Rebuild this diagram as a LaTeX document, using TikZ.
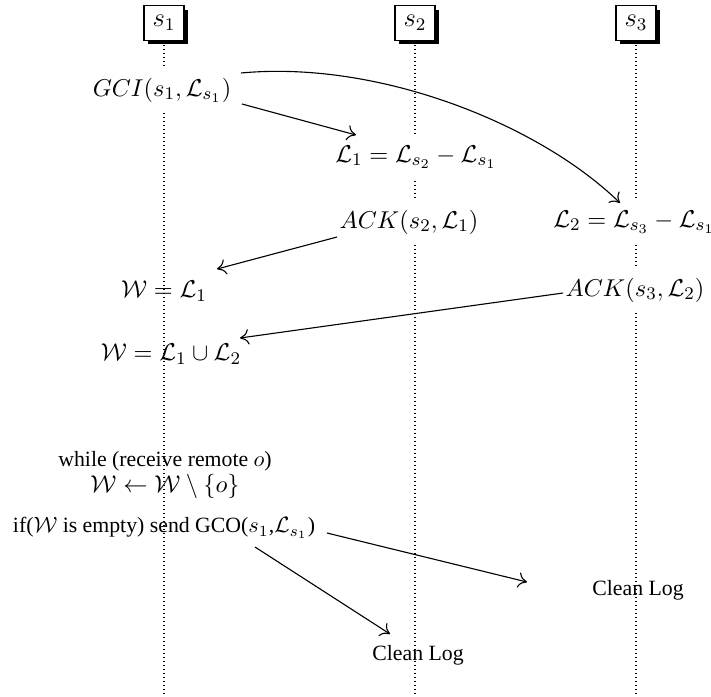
\documentclass[tikz,border=0pt]{standalone}
\usepackage{fontspec}
\setmainfont{Liberation Serif}
\usetikzlibrary{arrows.meta,shadows}
\begin{document}
\begin{tikzpicture}[x=0.45pt,y=-0.45pt,
  proc/.style={draw,line width=0.6pt,fill=white,minimum width=18pt,minimum height=15.5pt,inner sep=0pt,
    font=\fontsize{12}{14}\selectfont,
    drop shadow={shadow xshift=1.8pt,shadow yshift=-1.8pt,fill=black,opacity=1}},
  life/.style={line width=0.5pt,dash pattern=on 0.5pt off 1.3pt},
  msg/.style={line width=0.5pt,-{To[length=4pt,width=7pt]}},
  mbox/.style={fill=white,inner xsep=2pt,inner ysep=4.5pt,font=\fontsize{10.95}{13}\selectfont},
  mtext/.style={inner sep=1pt,font=\fontsize{10.95}{13}\selectfont},
  ttext/.style={inner sep=1pt,align=center,font=\fontsize{9.8}{12}\selectfont}]
\useasboundingbox (0,0) rectangle (711,696);
% processes
\node[proc] (s1) at (164,23) {$s_1$};
\node[proc] (s2) at (415,23) {$s_2$};
\node[proc] (s3) at (636,23) {$s_3$};
\coordinate (e1) at (164,696);
\coordinate (e2) at (415,696);
\coordinate (e3) at (636,696);
\draw[life] (s1) -- (e1);
\draw[life] (s2) -- (e2);
\draw[life] (s3) -- (e3);
% texts
\node[mbox] (gci) at (162,90) {$GCI(s_1,\mathcal{L}_{s_1})$};
\node[mbox] (l1) at (416,157) {$\mathcal{L}_1=\mathcal{L}_{s_2}-\mathcal{L}_{s_1}$};
\node[mbox] (ack2) at (409,222) {$ACK(s_2,\mathcal{L}_1)$};
\node[mbox] (l2) at (634,222) {$\mathcal{L}_2=\mathcal{L}_{s_3}-\mathcal{L}_{s_1}$};
\node[mtext] (wl1) at (164,291) {$\mathcal{W}=\mathcal{L}_1$};
\node[mbox] (ack3) at (635,290) {$ACK(s_3,\mathcal{L}_2)$};
\node[mtext] (wl12) at (171,354) {$\mathcal{W}=\mathcal{L}_1\cup\mathcal{L}_2$};
\node[ttext] (while) at (165,475) {while (receive remote $o$)\\[0pt] \fontsize{10.95}{13}\selectfont$\mathcal{W}\leftarrow\mathcal{W}\setminus\{o\}$};
\node[ttext] (if) at (164,528) {if($\mathcal{W}$ is empty) send GCO($s_1$,$\mathcal{L}_{s_1}$)};
\node[ttext] (cl3) at (638,590) {Clean Log};
\node[ttext] (cl2) at (418,655) {Clean Log};
% messages
\draw[msg] ([shift={(80,14)}]gci.center) -- ([shift={(-60,-22)}]l1.center);
\draw[msg] ([shift={(79,-17)}]gci.center) .. controls (380,60) and (540,125) .. ([shift={(-14,-19)}]l2.center);
\draw[msg] ([shift={(-72,15)}]ack2.center) -- ([shift={(53,-22)}]wl1.center);
\draw[msg] ([shift={(-72,3)}]ack3.center) -- ([shift={(69,-16)}]wl12.center);
\draw[msg] ([shift={(163,5)}]if.center) -- ([shift={(-111,-8)}]cl3.center);
\draw[msg] ([shift={(91,19)}]if.center) -- ([shift={(-28,-21)}]cl2.center);
\end{tikzpicture}
\end{document}
